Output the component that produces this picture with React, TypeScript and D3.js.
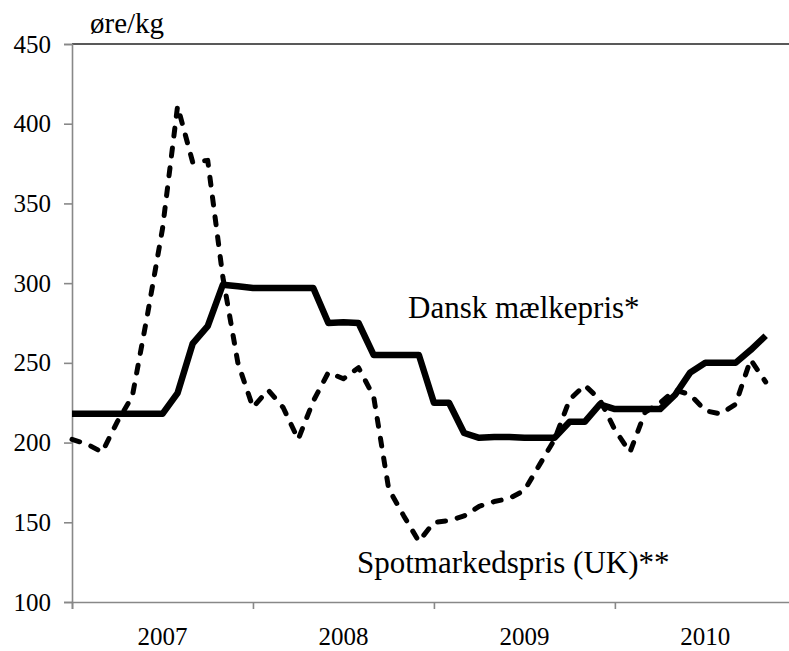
import { useEffect, useRef } from 'react';
import * as d3 from 'd3';

// monthly values, jan 2007 - nov 2010
const danskPris = [
  218, 218, 218, 218, 218, 218, 218, 231, 262, 273, 299, 298,
  297, 297, 297, 297, 297, 275, 275.5, 275, 255, 255, 255, 255,
  225, 225, 206, 203, 203.5, 203.5, 203, 203, 203, 213, 213, 224,
  221, 221, 221, 221, 230, 244, 250, 250, 250, 258, 267,
];

const spotPris = [
  202, 199, 194, 213, 229, 280, 334, 411, 376, 377, 304, 250,
  222, 233, 222, 202, 226, 244, 240, 247, 229, 171, 154, 138,
  150, 151, 154, 160, 163, 165, 170, 186, 202, 227, 236, 227,
  208, 194, 219, 225, 233, 230, 220, 218, 224, 252, 238,
];

const years = ['2007', '2008', '2009', '2010'];
const yTicks = [100, 150, 200, 250, 300, 350, 400, 450];

export default function App() {
  const svgRef = useRef<SVGSVGElement | null>(null);

  useEffect(() => {
    if (!svgRef.current) return;
    const svg = d3.select(svgRef.current);
    svg.selectAll('*').remove();

    const left = 72;
    const top = 44;
    const bottom = 602;
    const step = 15.08;

    const x = d3.scaleLinear().domain([0, 48]).range([left, left + 48 * step]);
    const y = d3.scaleLinear().domain([100, 450]).range([bottom, top]);

    const font = "'Times New Roman', Times, 'Liberation Serif', 'DejaVu Serif', serif";

    // top border
    svg.append('line')
      .attr('x1', left).attr('x2', 789)
      .attr('y1', top).attr('y2', top)
      .attr('stroke', '#222').attr('stroke-width', 1.6);

    // y axis
    const yAxis = svg.append('g')
      .attr('transform', `translate(${left},0)`)
      .call(d3.axisLeft(y).tickValues(yTicks).tickSize(8).tickPadding(13));
    yAxis.attr('font-family', font).attr('font-size', 25);
    yAxis.select('.domain').attr('stroke', '#888').attr('stroke-width', 1.6);
    yAxis.selectAll('.tick line').attr('stroke', '#888').attr('stroke-width', 1.6);
    yAxis.selectAll('.tick text').attr('fill', '#000');

    // x axis
    const xAxis = svg.append('g')
      .attr('transform', `translate(0,${bottom})`)
      .call(d3.axisBottom(x).tickValues([0, 12, 24, 36, 48]).tickSize(7).tickFormat(() => ''));
    xAxis.select('.domain').attr('stroke', '#888').attr('stroke-width', 1.6);
    xAxis.selectAll('.tick line').attr('stroke', '#888').attr('stroke-width', 1.6);

    svg.selectAll('.year')
      .data(years)
      .enter()
      .append('text')
      .attr('class', 'year')
      .attr('x', (d, i) => x(i * 12 + 6))
      .attr('y', 645)
      .attr('text-anchor', 'middle')
      .attr('font-family', font)
      .attr('font-size', 25)
      .text(d => d);

    const line = d3.line<number>()
      .x((d, i) => x(i))
      .y(d => y(d));

    svg.append('path')
      .datum(spotPris)
      .attr('d', line)
      .attr('fill', 'none')
      .attr('stroke', '#000')
      .attr('stroke-width', 5)
      .attr('stroke-linecap', 'round')
      .attr('stroke-linejoin', 'round')
      .attr('stroke-dasharray', '8 12');

    svg.append('path')
      .datum(danskPris)
      .attr('d', line)
      .attr('fill', 'none')
      .attr('stroke', '#000')
      .attr('stroke-width', 6.5)
      .attr('stroke-linejoin', 'round');

    // labels
    svg.append('text')
      .attr('x', 90).attr('y', 33)
      .attr('font-family', font).attr('font-size', 29)
      .text('øre/kg');

    svg.append('text')
      .attr('x', 408).attr('y', 318)
      .attr('font-family', font).attr('font-size', 31)
      .text('Dansk mælkepris*');

    svg.append('text')
      .attr('x', 357).attr('y', 573)
      .attr('font-family', font).attr('font-size', 31)
      .text('Spotmarkedspris (UK)**');
  }, []);

  return (
    <svg
      ref={svgRef}
      width={789}
      height={651}
      style={{ position: 'absolute', left: 0, top: 0, background: '#fff' }}
    />
  );
}
